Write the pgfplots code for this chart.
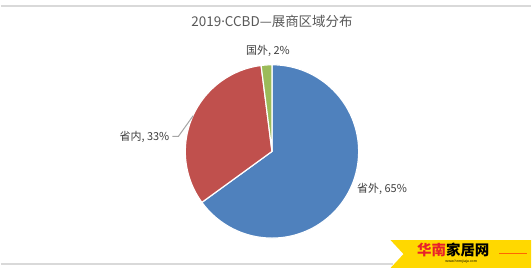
\documentclass[border=0pt]{standalone}
\usepackage{pgfplots}
\usepackage{pgfplotstable}
\pgfplotsset{compat=1.18}
\usepackage{fontspec}
\setmainfont{Noto Sans CJK SC}
\newfontfamily\latinfont{Noto Sans}
\definecolor{cBlue}{HTML}{4F81BD}
\definecolor{cRed}{HTML}{C0504D}
\definecolor{cGreen}{HTML}{9BBB59}
\definecolor{cText}{HTML}{404040}
\definecolor{cTitle}{HTML}{595959}
\definecolor{cLine}{HTML}{D9D9D9}
\definecolor{cLogo}{HTML}{FFD800}
\definecolor{cLogoRed}{HTML}{E8202A}

\pgfplotstableread{
idx value
0 65
1 33
2 2
}\piedata

\begin{document}
\begin{tikzpicture}
\pgfplotstablegetelem{0}{value}\of\piedata \pgfmathsetmacro{\va}{\pgfplotsretval}
\pgfplotstablegetelem{1}{value}\of\piedata \pgfmathsetmacro{\vb}{\pgfplotsretval}
\pgfplotstablegetelem{2}{value}\of\piedata \pgfmathsetmacro{\vc}{\pgfplotsretval}
\pgfmathsetmacro{\tot}{\va+\vb+\vc}
\pgfmathsetmacro{\aA}{90}
\pgfmathsetmacro{\aB}{90-360*(\va/\tot)}
\pgfmathsetmacro{\aC}{\aB-360*(\vb/\tot)}
\pgfmathsetmacro{\aD}{\aC-360*(\vc/\tot)}
\def\cx{272}\def\cy{152}\def\R{87}
\begin{axis}[
  scale only axis, width=532pt, height=280pt,
  xmin=0, xmax=532, ymin=0, ymax=280, y dir=reverse,
  hide axis, clip=false,
]
\fill[white] (axis cs:0,0) rectangle (axis cs:532,280);
% top & bottom grey rules
\draw[cLine, line width=2pt] (axis cs:0,6.5) -- (axis cs:532,6.5);
\draw[cLine, line width=2pt] (axis cs:0,265) -- (axis cs:393,265);
% pie
\filldraw[fill=cBlue, draw=white, line width=1.2pt] (axis cs:\cx,\cy) -- (axis cs:{\cx+\R*cos(\aA)},{\cy-\R*sin(\aA)}) arc[start angle=\aA, end angle=\aB, radius=\R pt] -- cycle;
\filldraw[fill=cRed, draw=white, line width=1.2pt] (axis cs:\cx,\cy) -- (axis cs:{\cx+\R*cos(\aB)},{\cy-\R*sin(\aB)}) arc[start angle=\aB, end angle=\aC, radius=\R pt] -- cycle;
\filldraw[fill=cGreen, draw=white, line width=1.2pt] (axis cs:\cx,\cy) -- (axis cs:{\cx+\R*cos(\aC)},{\cy-\R*sin(\aC)}) arc[start angle=\aC, end angle=\aD, radius=\R pt] -- cycle;
% leader line
\draw[gray!70, line width=1pt] (axis cs:172,137) -- (axis cs:178,137) -- (axis cs:193,116);
% title
\node[text=cTitle, font=\fontsize{13.5}{15}\selectfont] at (axis cs:272,21) {2019{\latinfont ·}CCBD—展商区域分布};
% labels
\node[text=cText, font=\fontsize{11}{12}\selectfont] at (axis cs:268,51) {国外, 2\%};
\node[text=cText, font=\fontsize{11}{12}\selectfont] at (axis cs:144,137.5) {省内, 33\%};
\node[text=cText, font=\fontsize{11}{12}\selectfont] at (axis cs:382.5,190) {省外, 65\%};
% logo
\fill[cLogo] (axis cs:391,241) -- (axis cs:532,241) -- (axis cs:532,269) -- (axis cs:391,269) -- (axis cs:404,255) -- cycle;
\draw[orange!80!red, line width=0.8pt] (axis cs:500,254) -- (axis cs:528,254);
\node[font=\bfseries\fontsize{14.5}{16}\selectfont, inner sep=0pt] at (axis cs:454,251) {\textcolor{cLogoRed}{华南}\textcolor{black}{家居网}};
\node[font=\fontsize{3.5}{4}\selectfont, inner sep=0pt] at (axis cs:462,263) {www.hnmjiaju.com};
\end{axis}
\end{tikzpicture}
\end{document}
